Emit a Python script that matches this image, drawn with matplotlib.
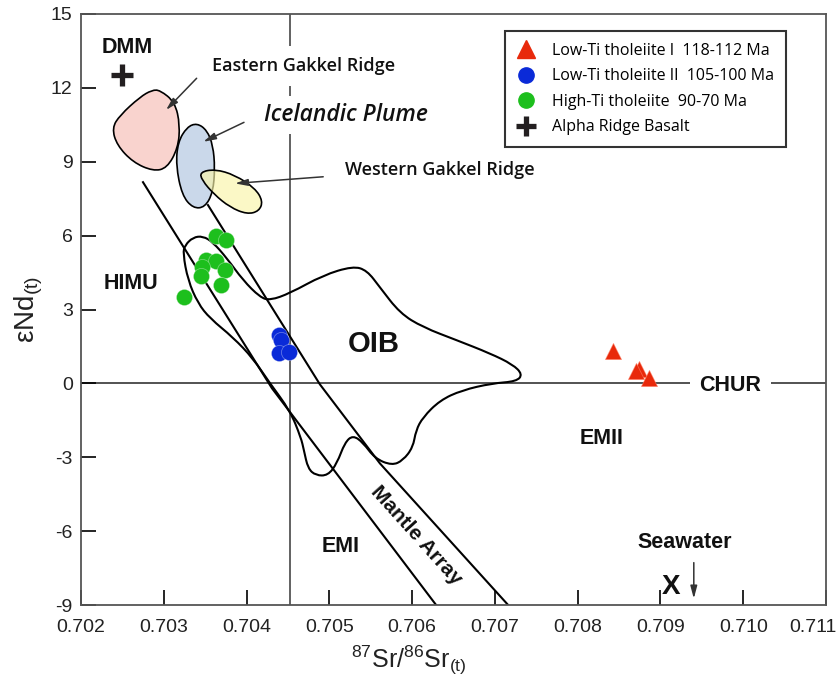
import matplotlib
matplotlib.use("Agg")
import matplotlib.pyplot as plt
from matplotlib.path import Path
from matplotlib.patches import PathPatch
from matplotlib.lines import Line2D
from matplotlib.transforms import ScaledTranslation
from matplotlib import font_manager as fm

# ---------------- data ----------------
low_ti_I_sr = [0.708425, 0.708736, 0.708703, 0.708864]
low_ti_I_nd = [1.30, 0.60, 0.49, 0.23]

low_ti_II_sr = [0.704391, 0.704415, 0.704391, 0.704512]
low_ti_II_nd = [1.95, 1.75, 1.22, 1.26]

high_ti_sr = [0.703627, 0.703751, 0.703510, 0.703630, 0.703458, 0.703739, 0.703446, 0.703687, 0.703244]
high_ti_nd = [5.99, 5.84, 5.03, 4.97, 4.73, 4.59, 4.35, 3.98, 3.51]

dmm_sr, dmm_nd = [0.702495], [12.52]

# reference fields (outline control points)
egr_sr = [0.702954, 0.703135, 0.703196, 0.703171, 0.703039, 0.702870, 0.702628, 0.702435, 0.702374, 0.702471, 0.702713, 0.702857]
egr_nd = [11.91, 11.42, 10.49, 9.55, 8.74, 8.62, 8.98, 9.67, 10.37, 10.89, 11.63, 11.91]

ice_sr = [0.703401, 0.703522, 0.703594, 0.703618, 0.703594, 0.703498, 0.703353, 0.703220, 0.703147, 0.703171, 0.703280]
ice_nd = [10.57, 10.28, 9.67, 8.74, 7.76, 7.15, 7.11, 7.64, 8.86, 9.80, 10.41]

wgr_sr = [0.703437, 0.703618, 0.703860, 0.704101, 0.704198, 0.704150, 0.704005, 0.703800, 0.703606, 0.703461]
wgr_nd = [8.58, 8.70, 8.46, 7.93, 7.40, 6.99, 6.87, 7.15, 7.68, 8.25]

oib_sr = [0.703353, 0.703473, 0.703594, 0.703763, 0.703957, 0.704162, 0.704283, 0.704524, 0.704923,
          0.705285, 0.705454, 0.705611, 0.705853, 0.706130, 0.706541, 0.706940, 0.707215, 0.707334,
          0.707262, 0.706964, 0.706601, 0.706336, 0.706130, 0.706046, 0.706010, 0.705889, 0.705756,
          0.705551, 0.705406, 0.705285, 0.705188, 0.705092, 0.704983, 0.704838, 0.704742, 0.704693,
          0.704657, 0.704524, 0.704283, 0.704077, 0.703836, 0.703558, 0.703413, 0.703292, 0.703232,
          0.703256]
oib_nd = [5.93, 5.98, 5.73, 5.08, 4.19, 3.50, 3.37, 3.66, 4.39,
          4.76, 4.59, 3.90, 2.85, 2.28, 1.75, 1.22, 0.77, 0.37,
          0.08, 0.00, -0.28, -0.69, -1.38, -1.91, -2.60, -3.13, -3.33,
          -3.05, -2.40, -2.11, -2.40, -3.25, -3.74, -3.74, -3.46, -2.72,
          -2.20, -1.10, 0.00, 1.02, 1.87, 2.64, 3.25, 4.19, 5.28,
          5.61]

mantle_left_sr = [0.702749, 0.704307, 0.706290]
mantle_left_nd = [8.17, -0.20, -9.0]
mantle_right_sr = [0.703534, 0.704886, 0.705611, 0.707160]
mantle_right_nd = [7.24, -0.04, -3.25, -9.0]

bulk_earth_sr = 0.70452
chur_nd = 0.0

x_ticks = [0.702, 0.703, 0.704, 0.705, 0.706, 0.707, 0.708, 0.709, 0.710, 0.711]
y_ticks = [-9, -6, -3, 0, 3, 6, 9, 12, 15]

legend_labels = ["Low-Ti tholeiite I  118-112 Ma",
                 "Low-Ti tholeiite II  105-100 Ma",
                 "High-Ti tholeiite  90-70 Ma",
                 "Alpha Ridge Basalt"]

# ---------------- styling ----------------
RED = "#e8290b"
BLUE = "#0a2ad8"
GREEN = "#1dbf1d"
_names = {f.name for f in fm.fontManager.ttflist}
if "Liberation Sans Narrow" in _names:
    NARROW, TICK_SIZE = "Liberation Sans Narrow", 16
else:
    NARROW, TICK_SIZE = "Liberation Sans", 14
ARIAL = ["Liberation Sans", "DejaVu Sans"]
MYRIAD = ["Open Sans", "DejaVu Sans"]

plt.rcParams["mathtext.fontset"] = "custom"
plt.rcParams["mathtext.rm"] = NARROW
plt.rcParams["mathtext.it"] = NARROW

fig = plt.figure(figsize=(8.39, 6.89), dpi=100)
ax = fig.add_axes([81 / 839, 1 - 605 / 689, (826 - 81) / 839, (605 - 14) / 689])
ax.set_xlim(0.702, 0.711)
ax.set_ylim(-9, 15)


def smooth_closed(xs, ys):
    pts = list(zip(xs, ys))
    n = len(pts)
    mid = lambda a, b: ((a[0] + b[0]) / 2, (a[1] + b[1]) / 2)
    verts = [mid(pts[-1], pts[0])]
    codes = [Path.MOVETO]
    for i in range(n):
        verts += [pts[i], mid(pts[i], pts[(i + 1) % n])]
        codes += [Path.CURVE3, Path.CURVE3]
    return Path(verts, codes)


# reference lines
ax.axvline(bulk_earth_sr, color="#555555", lw=1.3, zorder=1)
ax.axhline(chur_nd, color="#444444", lw=1.3, zorder=1)

# mantle array
ax.plot(mantle_left_sr, mantle_left_nd, color="black", lw=1.5, zorder=2)
ax.plot(mantle_right_sr, mantle_right_nd, color="black", lw=1.5, zorder=2)

# OIB field
ax.add_patch(PathPatch(smooth_closed(oib_sr, oib_nd), facecolor="none", edgecolor="black", lw=1.5, zorder=2))

# ridge / plume fields
ax.add_patch(PathPatch(smooth_closed(egr_sr, egr_nd), facecolor="#f9d3ce", edgecolor="black", lw=1.2, zorder=3))
ax.add_patch(PathPatch(smooth_closed(ice_sr, ice_nd), facecolor="#cad8ea", edgecolor="black", lw=1.2, zorder=3))
ax.add_patch(PathPatch(smooth_closed(wgr_sr, wgr_nd), facecolor=(0.98, 0.96, 0.66, 0.65), edgecolor="black", lw=1.2, zorder=4))

# data points
ax.scatter(high_ti_sr, high_ti_nd, s=135, color=GREEN, edgecolors=(1, 1, 1, 0.35), linewidths=0.6, zorder=6)
ax.scatter(low_ti_II_sr, low_ti_II_nd, s=135, color=BLUE, edgecolors=(1, 1, 1, 0.35), linewidths=0.6, zorder=6)
ax.scatter(low_ti_I_sr, low_ti_I_nd, s=135, marker="^", color=RED, edgecolors=(1, 0.5, 0.4, 0.6), linewidths=0.6, zorder=6)
ax.plot(dmm_sr, dmm_nd, marker="+", ms=16, mew=3.8, color="#231f20", ls="none", zorder=6)

# labels
bold = dict(family=ARIAL, fontweight="bold", fontsize=15.5, color="#111111", zorder=7)
ax.text(0.702556, 13.62, "DMM", ha="center", va="center", **bold)
ax.text(0.702610, 4.05, "HIMU", ha="center", va="center", **bold)
ax.text(0.705539, 1.59, "OIB", ha="center", va="center", **{**bold, "fontsize": 21})
ax.text(0.709847, -0.10, "CHUR", ha="center", va="center", bbox=dict(facecolor="white", edgecolor="none", pad=7), **bold)
ax.text(0.708286, -2.22, "EMII", ha="center", va="center", **bold)
ax.text(0.705142, -6.61, "EMI", ha="center", va="center", **bold)
ax.text(0.709289, -6.45, "Seawater", ha="center", va="center", **bold)
ax.text(0.709126, -8.25, "X", ha="center", va="center", **{**bold, "fontsize": 20})
ax.text(0.706054, -6.18, "Mantle Array", ha="center", va="center", rotation=-48,
        rotation_mode="anchor", **{**bold, "fontsize": 15})

ax.text(0.704685, 12.90, "Eastern Gakkel Ridge", ha="center", va="center", family=MYRIAD,
        fontsize=13, fontweight="semibold", color="#111111", bbox=dict(facecolor="white", edgecolor="none", pad=8), zorder=7)
ax.text(0.705200, 10.89, "Icelandic Plume", ha="center", va="center", family=MYRIAD, style="italic",
        fontsize=16.5, fontweight="semibold", color="#111111", bbox=dict(facecolor="white", edgecolor="none", pad=5), zorder=7)
ax.text(0.706336, 8.66, "Western Gakkel Ridge", ha="center", va="center", family=MYRIAD,
        fontsize=13, fontweight="semibold", color="#111111", zorder=7)

arrow = dict(arrowstyle="-|>,head_length=0.75,head_width=0.2", color="#333333", lw=1.1, shrinkA=0, shrinkB=0)
ax.annotate("", xy=(0.703027, 11.10), xytext=(0.703397, 12.39), arrowprops=arrow, zorder=8)
ax.annotate("", xy=(0.703477, 9.81), xytext=(0.703969, 10.60), arrowprops=arrow, zorder=8)
ax.annotate("", xy=(0.703860, 8.12), xytext=(0.704926, 8.39), arrowprops=arrow, zorder=8)
ax.annotate("", xy=(0.709403, -8.74), xytext=(0.709403, -7.28), arrowprops=arrow, zorder=8)

# axes styling
ax.set_xticks(x_ticks)
ax.set_xticklabels([f"{t:.3f}" for t in x_ticks])
ax.set_yticks(y_ticks)
ax.set_yticklabels([str(t) for t in y_ticks])
ax.tick_params(direction="in", length=11, width=1.2, color="black", labelsize=TICK_SIZE, top=False, right=False)
ax.tick_params(axis="x", pad=10)
ax.tick_params(axis="y", pad=6)
for lab in ax.get_xticklabels() + ax.get_yticklabels():
    lab.set_family(NARROW)
    lab.set_color("#222222")
last = ax.get_xticklabels()[-1]
last.set_transform(last.get_transform() + ScaledTranslation(-0.13, 0, fig.dpi_scale_trans))
for sp in ax.spines.values():
    sp.set_color("#555555")
    sp.set_linewidth(1.3)

ax.set_xlabel(r"$^{87}$Sr/$^{86}$Sr$_{(t)}$", family=NARROW, fontsize=18, color="#222222", labelpad=6)
ax.xaxis.label.set_x(0.44)
ax.set_ylabel(r"εNd$_{(t)}$", family=NARROW, fontsize=20, color="#222222", labelpad=4)

# legend
handles = [
    Line2D([], [], marker="^", color=RED, ls="none", ms=13),
    Line2D([], [], marker="o", color=BLUE, ls="none", ms=11),
    Line2D([], [], marker="o", color=GREEN, ls="none", ms=11),
    Line2D([], [], marker="+", color="#231f20", ls="none", ms=15, mew=3.8),
]
leg = ax.legend(handles, legend_labels, loc="upper left", bbox_to_anchor=(0.569, 0.972),
                borderaxespad=0, frameon=True, fancybox=False, framealpha=1, edgecolor="#333333",
                prop=dict(family=MYRIAD, size=11.5), handlelength=1.2, handletextpad=1.0,
                labelspacing=0.6, borderpad=0.75)
leg.get_frame().set_linewidth(1.5)
leg.set_zorder(10)

fig.savefig("out.png", dpi=100)
